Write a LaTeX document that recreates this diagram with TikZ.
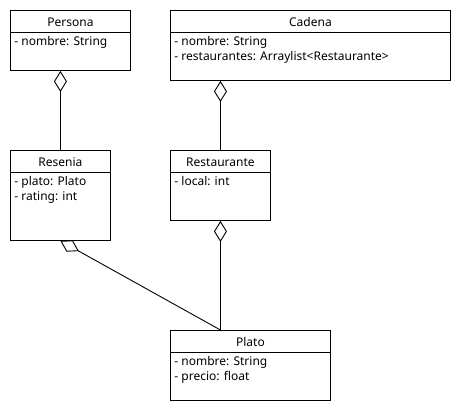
\documentclass[tikz,border=0pt]{standalone}
\usepackage{fontspec}
\setmainfont{Noto Sans}
\usetikzlibrary{positioning, arrows.meta}

\begin{document}
\begin{tikzpicture}
    [
      x=1pt, y=-1pt, line width=0.9pt,
      every node/.style = {font=\fontsize{12}{15}\selectfont},
      umlclass/.style = {draw, rectangle, anchor=north west, inner sep=0},
      attrs/.style = {anchor=north west, align=left, inner sep=0},
      aggr/.style = {-{Diamond[open, length=21pt, width=13pt]}}
    ]
    \useasboundingbox (0,0) rectangle (460,410);

    % classes
    \node[umlclass, minimum width=120pt, minimum height=60pt] (persona) at (10,10) {};
    \node[umlclass, minimum width=280pt, minimum height=70pt] (cadena) at (170,10) {};
    \node[umlclass, minimum width=100pt, minimum height=90pt] (resenia) at (10,150) {};
    \node[umlclass, minimum width=100pt, minimum height=70pt] (restaurante) at (170,150) {};
    \node[umlclass, minimum width=160pt, minimum height=70pt] (plato) at (170,330) {};

    % titles
    \node (personaT) at ([yshift=-12pt]persona.north) {Persona};
    \node (cadenaT) at ([yshift=-12pt]cadena.north) {Cadena};
    \node (reseniaT) at ([yshift=-12pt]resenia.north) {Resenia};
    \node (restauranteT) at ([yshift=-12pt]restaurante.north) {Restaurante};
    \node (platoT) at ([yshift=-12pt]plato.north) {Plato};

    % header lines
    \foreach \c in {persona, cadena, resenia, restaurante, plato}
      \draw ([yshift=-22pt]\c.north west) -- ([yshift=-22pt]\c.north east);

    % attributes
    \node[attrs] (personaA) at ([xshift=4pt, yshift=-26pt]persona.north west)
      {- nombre: String};
    \node[attrs] (cadenaA) at ([xshift=4pt, yshift=-26pt]cadena.north west)
      {- nombre: String\\- restaurantes: Arraylist<Restaurante>};
    \node[attrs] (reseniaA) at ([xshift=4pt, yshift=-26pt]resenia.north west)
      {- plato: Plato\\- rating: int};
    \node[attrs] (restauranteA) at ([xshift=4pt, yshift=-26pt]restaurante.north west)
      {- local: int};
    \node[attrs] (platoA) at ([xshift=4pt, yshift=-26pt]plato.north west)
      {- nombre: String\\- precio: float};

    % aggregations
    \draw[aggr] (resenia.north) -- (resenia.north |- persona.south);
    \draw[aggr] (restaurante.north) -- (restaurante.north |- cadena.south);
    \draw[aggr] (restaurante.south |- plato.north) -- (restaurante.south);
    \draw[aggr] (restaurante.south |- plato.north) -- (resenia.south);
  \end{tikzpicture}
\end{document}
